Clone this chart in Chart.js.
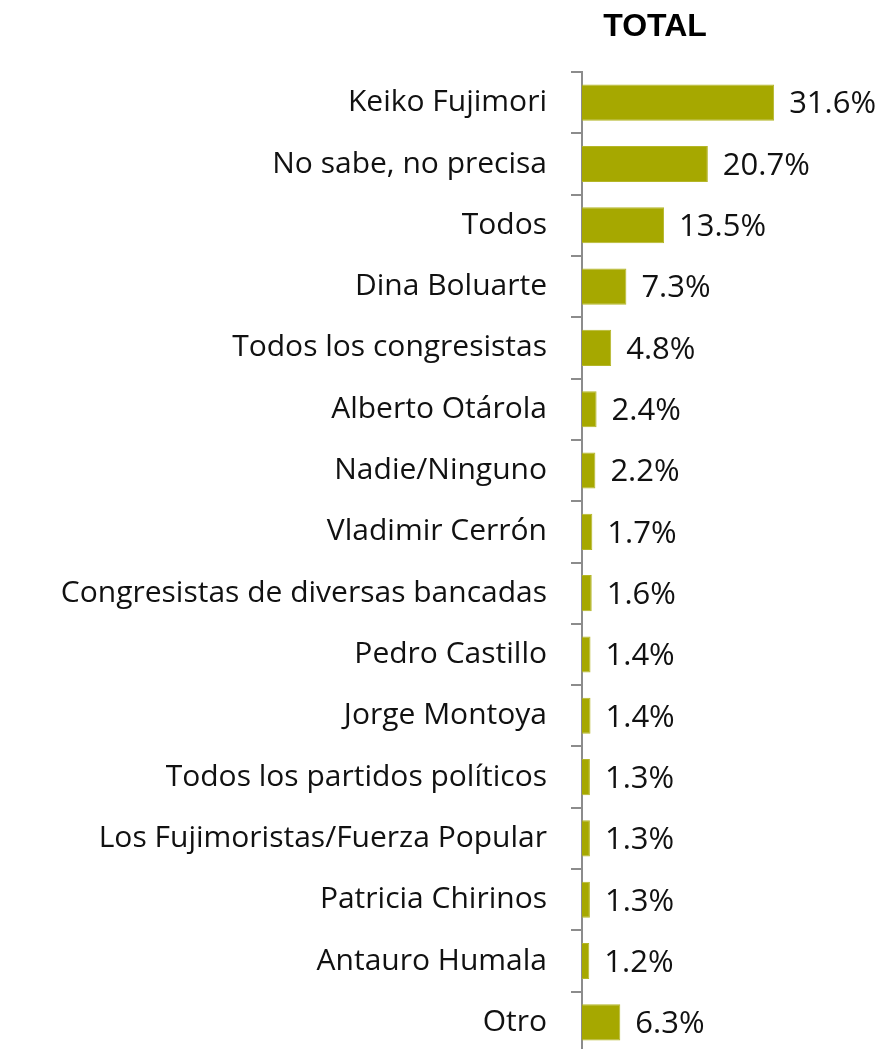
<!DOCTYPE html>
<html>
<head>
<meta charset="utf-8">
<script src="https://cdn.jsdelivr.net/npm/chart.js@4"></script>
<style>
  html, body { margin: 0; padding: 0; background: #fff; overflow: hidden; }
  #wrap { width: 889px; height: 1053px; position: relative; }
</style>
</head>
<body>
<div id="wrap"><canvas id="chart"></canvas></div>
<script>
const categories = [
  "Keiko Fujimori",
  "No sabe, no precisa",
  "Todos",
  "Dina Boluarte",
  "Todos los congresistas",
  "Alberto Otárola",
  "Nadie/Ninguno",
  "Vladimir Cerrón",
  "Congresistas de diversas bancadas",
  "Pedro Castillo",
  "Jorge Montoya",
  "Todos los partidos políticos",
  "Los Fujimoristas/Fuerza Popular",
  "Patricia Chirinos",
  "Antauro Humala",
  "Otro",
];
const totalValues = [31.6, 20.7, 13.5, 7.3, 4.8, 2.4, 2.2, 1.7, 1.6, 1.4, 1.4, 1.3, 1.3, 1.3, 1.2, 6.3];
const chartTitle = "TOTAL";

const labelFont = "'Open Sans', Lato, sans-serif";

const valueLabels = {
  id: "valueLabels",
  afterDatasetsDraw(chart) {
    const { ctx } = chart;
    const meta = chart.getDatasetMeta(0);
    ctx.save();
    ctx.font = `31px ${labelFont}`;
    ctx.fillStyle = "#111";
    ctx.textBaseline = "middle";
    ctx.textAlign = "left";
    meta.data.forEach((bar, i) => {
      ctx.fillText(totalValues[i].toFixed(1) + "%", bar.x + 15, bar.y + 2);
    });
    ctx.restore();
  },
};

const titlePlugin = {
  id: "titleText",
  afterDraw(chart) {
    const { ctx, chartArea } = chart;
    ctx.save();
    ctx.font = "bold 32px 'Liberation Sans', Arial, sans-serif";
    ctx.fillStyle = "#000";
    ctx.textAlign = "center";
    ctx.textBaseline = "alphabetic";
    ctx.fillText(chartTitle, chartArea.left + 73, 36);
    ctx.restore();
  },
};

new Chart(document.getElementById("chart"), {
  type: "bar",
  data: {
    labels: categories,
    datasets: [
      {
        label: chartTitle,
        data: totalValues,
        backgroundColor: "#a6a800",
        borderColor: "#b4b628",
        borderWidth: 1,
        barPercentage: 0.59,
        categoryPercentage: 1,
      },
    ],
  },
  options: {
    indexAxis: "y",
    responsive: true,
    maintainAspectRatio: false,
    animation: false,
    layout: { padding: { top: 72, right: 3, bottom: 0, left: 0 } },
    plugins: {
      legend: { display: false },
      tooltip: { enabled: false },
      title: { display: false },
    },
    scales: {
      x: {
        display: false,
        min: 0,
        max: 50,
      },
      y: {
        afterFit(scale) {
          scale.width = 582;
          scale.paddingTop = 0;
          scale.paddingBottom = 0;
        },
        grid: {
          drawOnChartArea: false,
          color: "#8c8c8c",
          lineWidth: 2,
          tickLength: 11,
          offset: true,
        },
        border: { color: "#8c8c8c", width: 2 },
        ticks: {
          color: "#111",
          padding: 24,
          font: { family: labelFont, size: 30 },
        },
      },
    },
  },
  plugins: [valueLabels, titlePlugin],
});
</script>
</body>
</html>
